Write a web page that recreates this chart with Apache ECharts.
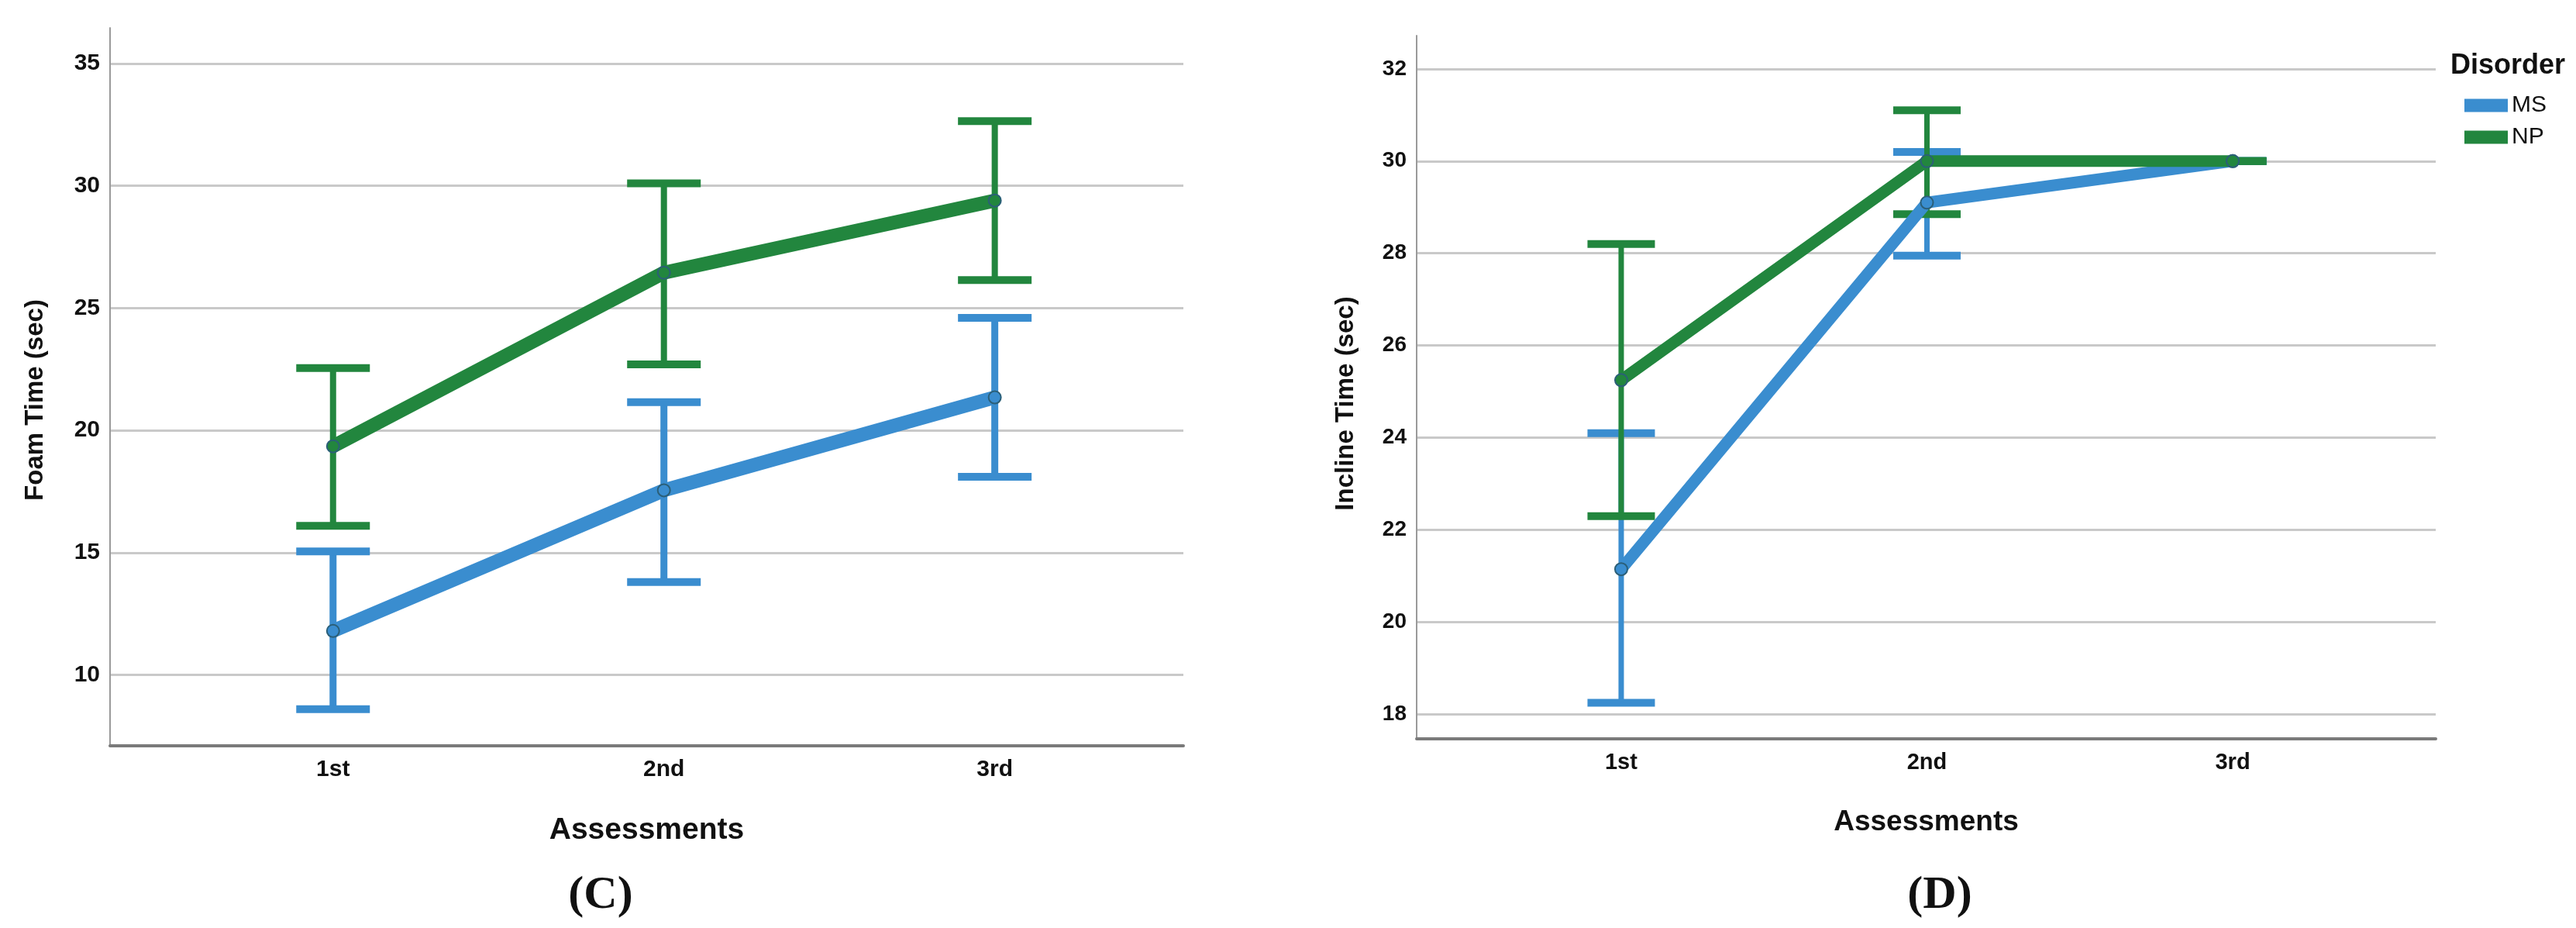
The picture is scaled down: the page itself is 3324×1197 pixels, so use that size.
<!DOCTYPE html>
<html>
<head>
<meta charset="utf-8">
<script src="https://cdn.jsdelivr.net/npm/echarts@6/dist/echarts.min.js"></script>
<style>
html,body{margin:0;padding:0;background:#fff;}
#chart{width:3324px;height:1197px;}
</style>
</head>
<body>
<div id="chart"></div>
<script>
// ---------- data ----------
const categories = ['1st', '2nd', '3rd'];
const seriesNames = ['MS', 'NP'];

// (C) Foam Time (sec)
const foamMS    = [11.8, 17.55, 21.35];
const foamMSLo  = [8.6, 13.8, 18.1];
const foamMSHi  = [15.05, 21.15, 24.6];
const foamNP    = [19.35, 26.45, 29.4];
const foamNPLo  = [16.1, 22.7, 26.15];
const foamNPHi  = [22.55, 30.1, 32.65];

// (D) Incline Time (sec)
const inclMS    = [21.15, 29.1, 30];
const inclMSLo  = [18.25, 27.95, 30];
const inclMSHi  = [24.1, 30.2, 30];
const inclNP    = [25.25, 30, 30];
const inclNPLo  = [22.3, 28.85, 30];
const inclNPHi  = [28.2, 31.1, 30];

const foamTicks = [10, 15, 20, 25, 30, 35];
const inclTicks = [18, 20, 22, 24, 26, 28, 30, 32];
const xTicks = [1, 2, 3];

// ---------- helpers ----------
const BLUE = '#3a8dcf', GREEN = '#22863e';
const MARK = '#2b5f78';
const FONT = '"Liberation Sans", Arial, sans-serif';

function pts(vals) { return vals.map((v, i) => [i + 1, v]); }
function errs(lo, hi) { return lo.map((v, i) => [i + 1, v, hi[i]]); }

function errRender(capW, lineW, capH, color) {
  return function (params, api) {
    const x = api.value(0), lo = api.value(1), hi = api.value(2);
    const pLo = api.coord([x, lo]);
    const pHi = api.coord([x, hi]);
    return {
      type: 'group',
      children: [
        { type: 'line', shape: { x1: pLo[0], y1: pLo[1], x2: pHi[0], y2: pHi[1] },
          style: { stroke: color, lineWidth: lineW } },
        { type: 'rect', shape: { x: pHi[0] - capW / 2, y: pHi[1] - capH / 2, width: capW, height: capH },
          style: { fill: color } },
        { type: 'rect', shape: { x: pLo[0] - capW / 2, y: pLo[1] - capH / 2, width: capW, height: capH },
          style: { fill: color } }
      ]
    };
  };
}

function xAxisCfg(gridIndex, min, max, gap, tickSize, nameSize) {
  return {
    type: 'value', gridIndex, min, max,
    axisLine: { show: true, lineStyle: { color: '#7a7a7a', width: 4 } },
    axisTick: { show: false, customValues: xTicks },
    splitLine: { show: false },
    axisLabel: {
      customValues: xTicks, margin: 16,
      formatter: v => categories[Math.round(v) - 1] || '',
      fontFamily: FONT, fontWeight: 'bold', fontSize: tickSize, color: '#111'
    },
    name: 'Assessments', nameLocation: 'middle', nameGap: gap,
    nameTextStyle: { fontFamily: FONT, fontWeight: 'bold', fontSize: nameSize, color: '#111' }
  };
}

function yAxisCfg(gridIndex, min, max, ticks, name, gap, padShift, tickSize) {
  return {
    type: 'value', gridIndex, min, max,
    axisLine: { show: true, lineStyle: { color: '#9a9a9a', width: 2 } },
    axisTick: { show: false, customValues: ticks },
    splitLine: { show: true, lineStyle: { color: '#c9c9c9', width: 3 } },
    axisLabel: {
      customValues: ticks, margin: 13,
      fontFamily: FONT, fontWeight: 'bold', fontSize: tickSize, color: '#111'
    },
    name, nameLocation: 'middle', nameGap: gap, nameRotate: 90,
    nameTextStyle: { fontFamily: FONT, fontWeight: 'bold', fontSize: 33, color: '#111',
      padding: [0, padShift, 0, 0] }
  };
}

function lineSeries(name, data, color, xi, width) {
  return {
    type: 'line', name, data, xAxisIndex: xi, yAxisIndex: xi, z: 4,
    symbol: 'circle', symbolSize: 16,
    lineStyle: { color, width },
    itemStyle: { color, borderColor: MARK, borderWidth: 2 },
    emphasis: { disabled: true }, animation: false
  };
}

function errSeries(name, data, color, xi, capW, lineW, capH) {
  return {
    type: 'custom', name, data, xAxisIndex: xi, yAxisIndex: xi, z: 3,
    itemStyle: { color },
    renderItem: errRender(capW, lineW, capH, color),
    encode: { x: 0, y: [1, 2] },
    animation: false, silent: true
  };
}

const chart = echarts.init(document.getElementById('chart'), null, { renderer: 'canvas' });

chart.setOption({
  backgroundColor: '#ffffff',
  animation: false,
  title: [
    { text: 'Disorder', left: 3157, top: 62,
      textStyle: { fontFamily: FONT, fontWeight: 'bold', fontSize: 36, color: '#111' } },
    { text: '(C)', left: 770, top: 1120, textAlign: 'center',
      textStyle: { fontFamily: '"Liberation Serif", "Times New Roman", serif', fontWeight: 'bold', fontSize: 60, color: '#111' } },
    { text: '(D)', left: 2498, top: 1120, textAlign: 'center',
      textStyle: { fontFamily: '"Liberation Serif", "Times New Roman", serif', fontWeight: 'bold', fontSize: 60, color: '#111' } }
  ],
  legend: {
    orient: 'vertical', left: 3175, top: 116,
    data: seriesNames.map((n, i) => ({ name: n, icon: 'rect',
      itemStyle: { color: i ? GREEN : BLUE, borderWidth: 0 } })),
    itemWidth: 56, itemHeight: 17, itemGap: 11,
    itemStyle: { borderWidth: 0 },
    selectedMode: false,
    textStyle: { fontFamily: FONT, fontSize: 30, color: '#111' }
  },
  grid: [
    { left: 142, top: 36, width: 1385, height: 926, containLabel: false },
    { left: 1828, top: 46, width: 1315, height: 907, containLabel: false }
  ],
  xAxis: [
    xAxisCfg(0, 0.326, 3.57, 90, 30, 39),
    xAxisCfg(1, 0.331, 3.664, 89, 29, 37)
  ],
  yAxis: [
    yAxisCfg(0, 7.1, 36.46, foamTicks, 'Foam Time (sec)', 80, 34, 30),
    yAxisCfg(1, 17.47, 32.72, inclTicks, 'Incline Time (sec)', 75, 42, 28)
  ],
  series: [
    lineSeries('MS', pts(foamMS), BLUE, 0, 18),
    lineSeries('NP', pts(foamNP), GREEN, 0, 18),
    errSeries('MS', errs(foamMSLo, foamMSHi), BLUE, 0, 95, 9, 10),
    errSeries('NP', errs(foamNPLo, foamNPHi), GREEN, 0, 95, 8, 10),

    lineSeries('MS', pts(inclMS), BLUE, 1, 15),
    lineSeries('NP', pts(inclNP), GREEN, 1, 15),
    errSeries('MS', errs(inclMSLo, inclMSHi), BLUE, 1, 87, 7, 10),
    errSeries('NP', errs(inclNPLo, inclNPHi), GREEN, 1, 87, 7, 10)
  ]
});
</script>
</body>
</html>
